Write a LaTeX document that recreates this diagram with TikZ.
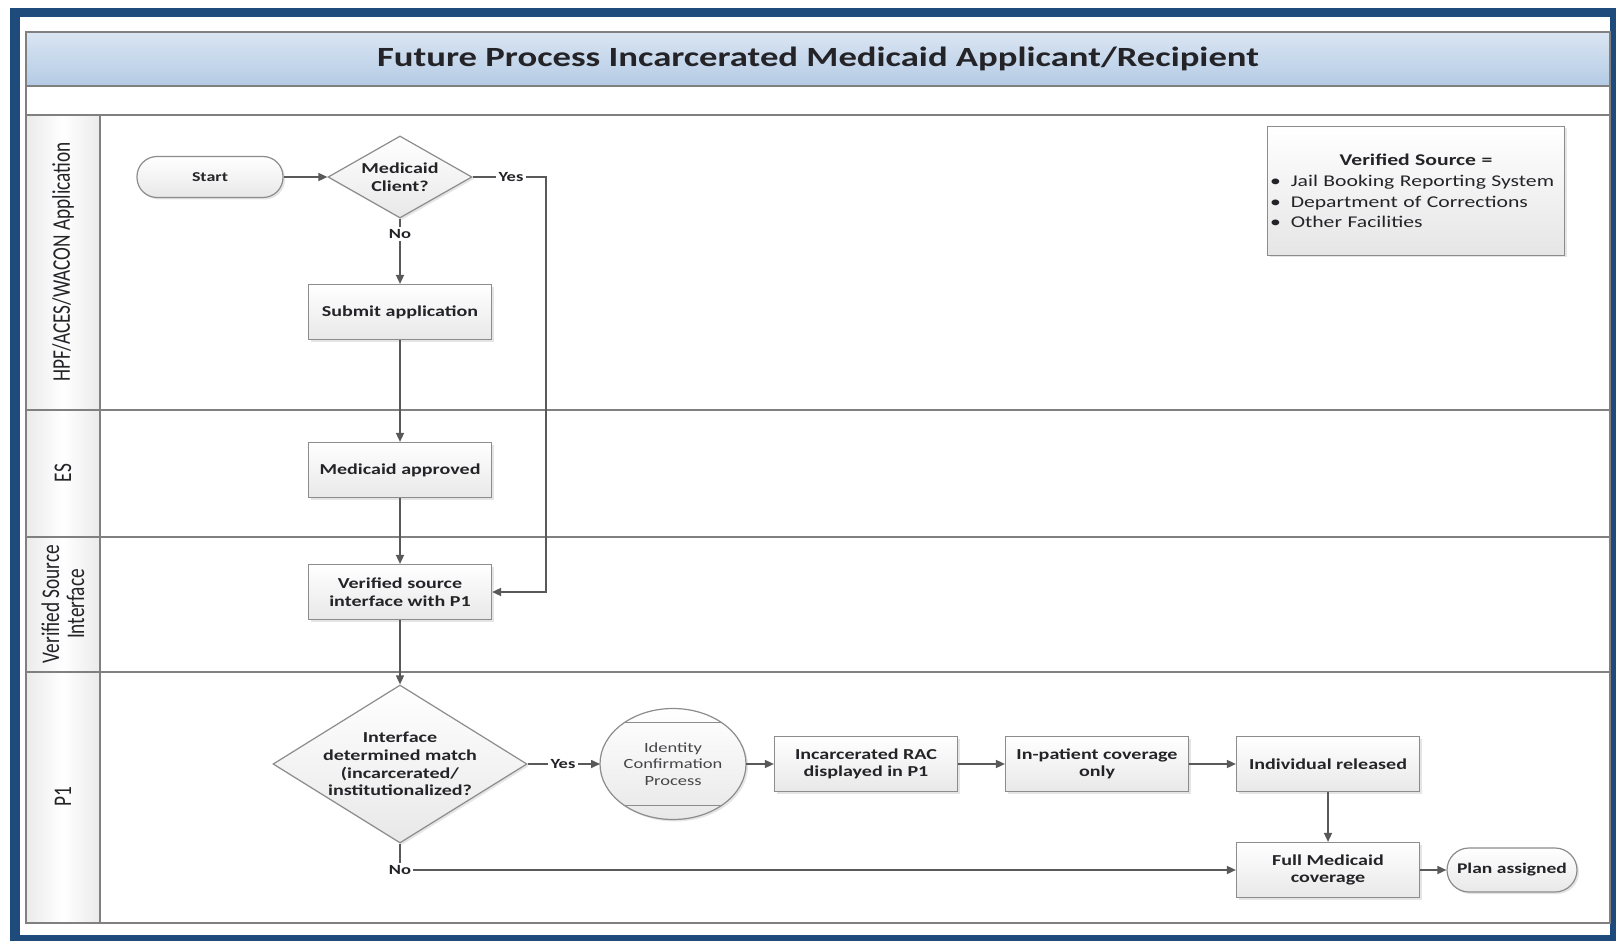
\documentclass[tikz,border=0pt]{standalone}
\usepackage{fontspec}
\setmainfont{Carlito}[FakeStretch=1.32]
\newfontfamily\lanefont{Carlito}[FakeStretch=0.76]
\usetikzlibrary{shapes.geometric,arrows.meta,shadows}

\definecolor{frameblue}{RGB}{30,74,124}
\definecolor{headtop}{RGB}{218,229,242}
\definecolor{headbot}{RGB}{180,203,229}
\definecolor{txt}{RGB}{36,36,40}

\begin{document}
\begin{tikzpicture}[x=0.5pt, y=-0.5pt,
  box/.style = {draw=black!45, line width=0.6pt, top color=white, bottom color=black!9, minimum width=91.5pt, minimum height=27.5pt, inner sep=1pt, align=center, text=txt, font=\fontsize{7.6}{8.8}\selectfont\bfseries, drop shadow={opacity=0.2, shadow xshift=1pt, shadow yshift=-1pt}},
  term/.style = {box, rounded corners=10pt, minimum width=73pt, minimum height=20.5pt},
  dec/.style = {diamond, draw=black!45, line width=0.6pt, top color=white, bottom color=black!9, inner sep=0pt, drop shadow={opacity=0.2, shadow xshift=1pt, shadow yshift=-1pt}},
  dtxt/.style = {align=center, inner sep=0pt, text=txt, font=\fontsize{7.6}{8.8}\selectfont\bfseries},
  proc/.style = {ellipse, draw=black!45, line width=0.6pt, top color=white, bottom color=black!9, minimum width=73pt, minimum height=55.5pt, inner sep=0pt, outer sep=0pt, align=center, text=txt!85, font=\fontsize{7}{8.2}\selectfont, drop shadow={opacity=0.2, shadow xshift=1pt, shadow yshift=-1pt}},
  lbl/.style = {text=txt, inner sep=1pt, font=\fontsize{7}{8}\selectfont\bfseries},
  conn/.style = {draw=black!65, line width=0.8pt},
  arr/.style = {conn, -{Triangle[length=4.5pt, width=4pt]}},
  lane/.style = {draw=black!50, line width=0.7pt},
  lanetxt/.style = {rotate=90, align=center, text=txt, font=\lanefont\fontsize{12.7}{12.5}\selectfont},
  legend/.style = {draw=black!45, line width=0.6pt, top color=white, bottom color=black!10, minimum width=148.5pt, minimum height=64.5pt, text width=146pt, inner xsep=1.25pt, text=txt, font=\fontsize{8.2}{10.3}\selectfont, drop shadow={opacity=0.2, shadow xshift=1pt, shadow yshift=-1pt}}
]

\useasboundingbox (0,0) rectangle (1616,941);
\fill[white] (0,0) rectangle (1616,941);

% frame and header
\fill[frameblue] (10,8) rectangle (1616,941);
\fill[white] (20,17) rectangle (1610,935);
\draw[lane, top color=headtop, bottom color=headbot] (26,32) rectangle (1610,86);
\node[text=txt, font=\fontsize{13.9}{15}\selectfont\bfseries] (title) at (818,59) {Future Process Incarcerated Medicaid Applicant/Recipient};

% lanes
\draw[lane, left color=black!8, right color=black!8, middle color=white] (26,115) rectangle (100,923);
\draw[lane] (26,86) rectangle (1610,923);
\draw[lane] (26,115) -- (1610,115);
\draw[lane] (26,410) -- (1610,410);
\draw[lane] (26,537) -- (1610,537);
\draw[lane] (26,672) -- (1610,672);
\draw[lane] (100,115) -- (100,923);

\node[lanetxt] (L1) at (63,262) {HPF/ACES/WACON Application};
\node[lanetxt] (L2) at (63,473) {ES};
\node[lanetxt] (L3) at (63,604) {Verified Source\\Interface};
\node[lanetxt] (L4) at (63,797) {P1};


\node[term, font=\fontsize{6.8}{8}\selectfont\bfseries] (start) at (210,177) {Start};
\node[dec, minimum width=72pt, minimum height=41pt, label={[dtxt]center:Medicaid\\Client?}] (client) at (400,177) {};
\node[lbl] (yes1) at (511,177) {Yes};
\coordinate (c1) at (546,592);
\node[lbl] (no1) at (400,234) {No};

\node[box] (submit) at (400,312) {Submit application};
\node[box] (approved) at (400,470) {Medicaid approved};
\node[box] (verified) at (400,592) {Verified source\\interface with P1};

\node[dec, minimum width=127pt, minimum height=79pt, label={[dtxt]center:Interface\\determined match\\(incarcerated/\\institutionalized?}] (match) at (400,764) {};
\node[lbl] (yes2) at (563,764) {Yes};
\node[lbl] (no2) at (400,870) {No};

\node[proc] (identity) at (673,764) {Identity\\Confirmation\\Process};
\node[box] (rac) at (866,764) {Incarcerated RAC\\displayed in P1};
\node[box] (inpatient) at (1097,764) {In-patient coverage\\only};
\node[box] (released) at (1328,764) {Individual released};
\node[box] (full) at (1328,870) {Full Medicaid\\coverage};
\node[term, minimum width=65pt, minimum height=22pt, rounded corners=11pt, font=\fontsize{7.4}{8.6}\selectfont\bfseries] (plan) at (1512,870) {Plan assigned};

\node[legend] (vsrc) at (1416,191) {\centering\textbf{Verified Source =}\par\raggedright
\textbullet\hspace{5pt}Jail Booking Reporting System\par
\textbullet\hspace{5pt}Department of Corrections\par
\textbullet\hspace{5pt}Other Facilities};

\draw[draw=black!45, line width=0.6pt] (identity.140) -- (identity.40);
\draw[draw=black!45, line width=0.6pt] (identity.-140) -- (identity.-40);


\draw[arr] (start) -- (client);
\draw[conn] (client) -- (yes1);
\draw[arr] (yes1) -| (c1) -- (verified);
\draw[conn] (client) -- (no1);
\draw[arr] (no1) -- (submit);

\draw[arr] (submit) -- (approved);
\draw[arr] (approved) -- (verified);
\draw[arr] (verified) -- (match);

\draw[conn] (match) -- (yes2);
\draw[arr] (yes2) -- (identity);
\draw[arr] (identity) -- (rac);
\draw[arr] (rac) -- (inpatient);
\draw[arr] (inpatient) -- (released);
\draw[arr] (released) -- (full);
\draw[arr] (full) -- (plan);

\draw[conn] (match) -- (no2);
\draw[arr] (no2) -- (full);

\end{tikzpicture}
\end{document}
